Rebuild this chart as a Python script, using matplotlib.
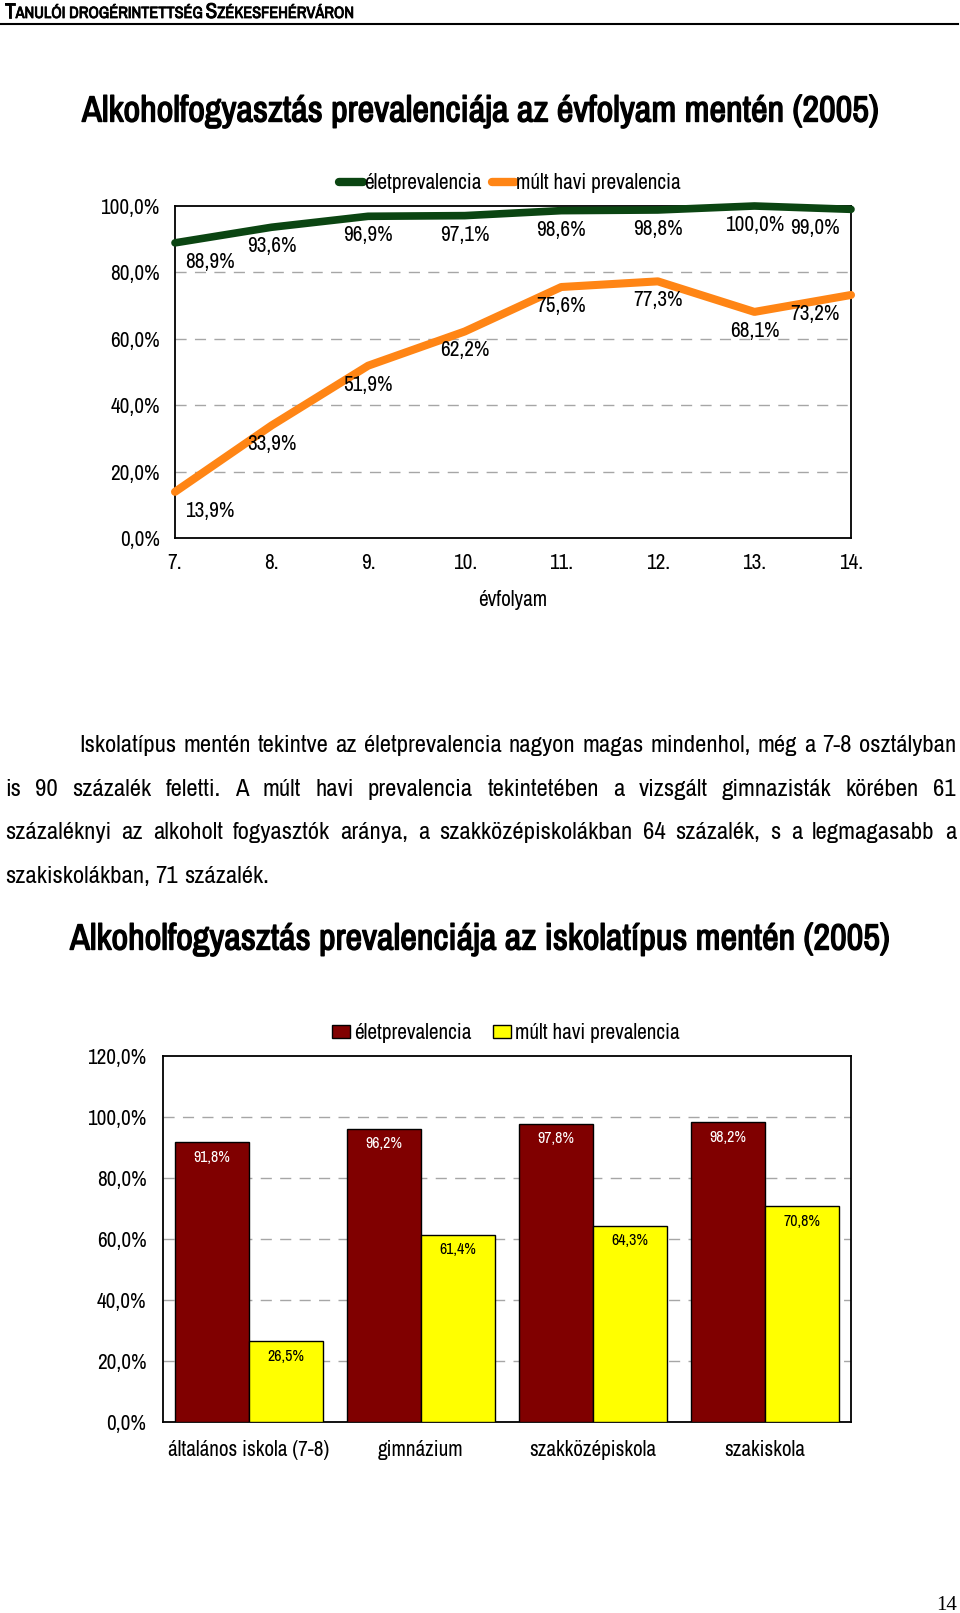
import matplotlib
matplotlib.use('Agg')
import numpy as np
import matplotlib.pyplot as plt
from matplotlib import font_manager
from matplotlib.lines import Line2D
from matplotlib.patches import Patch
from matplotlib.ticker import FuncFormatter
import matplotlib.patheffects as pe

# ---------------- data ----------------
grades = ['7.', '8.', '9.', '10.', '11.', '12.', '13.', '14.']
grade_pos = [7, 8, 9, 10, 11, 12, 13, 14]
life_grade = [88.9, 93.6, 96.9, 97.1, 98.6, 98.8, 100.0, 99.0]
month_grade = [13.9, 33.9, 51.9, 62.2, 75.6, 77.3, 68.1, 73.2]

school_types = ['általános iskola (7-8)', 'gimnázium', 'szakközépiskola', 'szakiskola']
life_school = [91.8, 96.2, 97.8, 98.2]
month_school = [26.5, 61.4, 64.3, 70.8]

series_names = ['életprevalencia', 'múlt havi prevalencia']

header_parts = [('T', True), ('ANULÓI DROGÉRINTETTSÉG', False), ('S', True), ('ZÉKESFEHÉRVÁRON', False)]
title1 = 'Alkoholfogyasztás prevalenciája az évfolyam mentén (2005)'
title2 = 'Alkoholfogyasztás prevalenciája az iskolatípus mentén (2005)'
xlabel1 = 'évfolyam'
paragraph = [
    'Iskolatípus mentén tekintve az életprevalencia nagyon magas mindenhol, még a 7-8 osztályban',
    'is 90 százalék feletti. A múlt havi prevalencia tekintetében a vizsgált gimnazisták körében 61',
    'százaléknyi az alkoholt fogyasztók aránya, a szakközépiskolákban 64 százalék, s a legmagasabb a',
    'szakiskolákban, 71 százalék.',
]
page_no = '14'

# ---------------- fonts ----------------
entries = font_manager.fontManager.ttflist
names = {f.name for f in entries}
prefs = ['Liberation Sans Narrow', 'Arial Narrow', 'Archivo Narrow', 'Roboto Condensed',
         'PT Sans Narrow', 'Pragati Narrow', 'Sofia Sans Condensed', 'Fira Sans Condensed',
         'IBM Plex Sans Condensed', 'Encode Sans Condensed', 'Liberation Sans']
FAM = next(p for p in prefs if p in names) if any(p in names for p in prefs) else 'DejaVu Sans'


def _w(v):
    return v if isinstance(v, (int, float)) else font_manager.weight_dict.get(v, 400)


HAS_BOLD = any(f.name == FAM and _w(f.weight) >= 600 for f in entries)
plt.rcParams['font.family'] = [FAM, 'Liberation Sans', 'DejaVu Sans']

W, H = 960, 1613
fig = plt.figure(figsize=(9.6, 16.13), dpi=100)
renderer = fig.canvas.get_renderer()


def bold_kw(stroke=1.0):
    if HAS_BOLD:
        return dict(fontweight='bold')
    return dict(fontweight='bold', path_effects=[pe.withStroke(linewidth=stroke, foreground='black')])


def fit_size(s, target_px, bold=False, base=20.0):
    kw = dict(fontweight='bold') if bold else {}
    t = fig.text(0, 0, s, fontsize=base, **kw)
    w = t.get_window_extent(renderer).width
    t.remove()
    if not bold or HAS_BOLD:
        return base * target_px / w
    return base * (target_px - 1) / w


def fx(px):
    return px / W


def fy(py):
    return 1 - py / H


def pct(v):
    return f"{v:.1f}%".replace('.', ',')


GREEN = '#0b4512'
ORANGE = '#ff8515'
DARKRED = '#800000'
YELLOW = '#ffff00'
GRID = '#a6a6a6'

FS = fit_size('100,0%', 59)            # axis / legend font
FS_BAR = fit_size('91,8%', 37)          # bar value labels
FS_PAR = fit_size('szakiskolákban, 71 százalék.', 263)
FS_T1 = fit_size(title1, 798, bold=True)
FS_T2 = fit_size(title2, 821, bold=True)

# ---------------- header ----------------
hb = 20.0
tmp_w = 0
for s, big in header_parts:
    t = fig.text(0, 0, s, fontsize=hb if big else hb * 0.76, fontweight='bold')
    tmp_w += t.get_window_extent(renderer).width
    t.remove()
hscale = (358 - 3 * 4) / tmp_w
x = 5
for s, big in header_parts:
    t = fig.text(fx(x), fy(18), s, fontsize=(hb if big else hb * 0.76) * hscale,
                 va='baseline', ha='left', **bold_kw(0.6))
    x += t.get_window_extent(renderer).width + (0 if big else 4)
fig.add_artist(Line2D([0, 958 / W], [fy(24), fy(24)], transform=fig.transFigure,
                      color='black', lw=1.5))

# ---------------- title 1 ----------------
fig.text(fx(82), fy(111), title1, fontsize=FS_T1, va='center', ha='left', **bold_kw())

# ---------------- line chart ----------------
ax1 = fig.add_axes([fx(175), fy(538), (851 - 175) / W, (538 - 206) / H])
ax1.plot(grade_pos, life_grade, color=GREEN, lw=5.5, solid_capstyle='round',
         solid_joinstyle='round', clip_on=False, zorder=4)
ax1.plot(grade_pos, month_grade, color=ORANGE, lw=5.8, solid_capstyle='round',
         solid_joinstyle='round', clip_on=False, zorder=4)
ax1.set_xlim(7, 14)
ax1.set_ylim(0, 100)
ax1.set_yticks([0, 20, 40, 60, 80, 100])
ax1.yaxis.set_major_formatter(FuncFormatter(lambda v, p: pct(v)))
ax1.set_xticks(grade_pos)
ax1.set_xticklabels(grades)
ax1.tick_params(length=0, labelsize=FS)
ax1.tick_params(axis='y', pad=11)
ax1.tick_params(axis='x', pad=11)
for gy in [20, 40, 60, 80]:
    ax1.axhline(gy, color=GRID, lw=1, ls=(0, (8, 6)), zorder=1)
for sp in ax1.spines.values():
    sp.set_color('black')
    sp.set_linewidth(1.3)
ax1.set_xlabel(xlabel1, fontsize=FS, labelpad=12)

n = len(grade_pos)
for i, (gx, v1, v2) in enumerate(zip(grade_pos, life_grade, month_grade)):
    dx = 35 if i == 0 else (-36 if i == n - 1 else 0)
    for v in (v1, v2):
        ax1.annotate(pct(v), (gx, v), xytext=(dx, -19), textcoords='offset pixels',
                     ha='center', va='center', fontsize=FS, zorder=5)

h1 = [Line2D([], [], color=GREEN, lw=6, solid_capstyle='round'),
      Line2D([], [], color=ORANGE, lw=6, solid_capstyle='round')]
fig.legend(h1, series_names, loc='center', bbox_to_anchor=(fx(510), fy(183)), ncol=2,
           frameon=False, fontsize=FS, handlelength=1.1, handletextpad=0.05,
           columnspacing=0.5, borderpad=0, borderaxespad=0)

# ---------------- paragraph (justified) ----------------
t_a = fig.text(0, 0, 'a a', fontsize=FS_PAR)
t_b = fig.text(0, 0, 'aa', fontsize=FS_PAR)
space_w = t_a.get_window_extent(renderer).width - t_b.get_window_extent(renderer).width
t_a.remove()
t_b.remove()
x_first, x_left, x_right = 79, 5, 956
for i, line in enumerate(paragraph):
    base = 752 + 43.7 * i
    words = line.split(' ')
    texts = [fig.text(0, fy(base), w, fontsize=FS_PAR, va='baseline', ha='left') for w in words]
    widths = [t.get_window_extent(renderer).width for t in texts]
    x0 = x_first if i == 0 else x_left
    if i == len(paragraph) - 1:
        gap = space_w
    else:
        gap = (x_right - x0 - sum(widths)) / (len(words) - 1)
    xx = x0
    for t, wd in zip(texts, widths):
        t.set_x(fx(xx))
        xx += wd + gap

# ---------------- title 2 ----------------
fig.text(fx(70), fy(939), title2, fontsize=FS_T2, va='center', ha='left', **bold_kw())

# ---------------- bar chart ----------------
ax2 = fig.add_axes([fx(163), fy(1422), (851 - 163) / W, (1422 - 1056) / H])
idx = np.arange(len(school_types))
bw = 0.43
b1 = ax2.bar(idx - bw / 2, life_school, bw, color=DARKRED, edgecolor='black', lw=1, zorder=3)
b2 = ax2.bar(idx + bw / 2, month_school, bw, color=YELLOW, edgecolor='black', lw=1, zorder=3)
ax2.set_xlim(-0.5, len(school_types) - 0.5)
ax2.set_ylim(0, 120)
ax2.set_yticks([0, 20, 40, 60, 80, 100, 120])
ax2.yaxis.set_major_formatter(FuncFormatter(lambda v, p: pct(v)))
ax2.set_xticks(idx)
ax2.set_xticklabels(school_types)
ax2.tick_params(length=0, labelsize=FS)
ax2.tick_params(axis='y', pad=12)
ax2.tick_params(axis='x', pad=13)
for gy in [20, 40, 60, 80, 100]:
    ax2.axhline(gy, color=GRID, lw=1, ls=(0, (8, 6)), zorder=1)
for sp in ax2.spines.values():
    sp.set_color('black')
    sp.set_linewidth(1.3)
for bars, vals, col in ((b1, life_school, 'white'), (b2, month_school, 'black')):
    for r, v in zip(bars, vals):
        ax2.annotate(pct(v), (r.get_x() + r.get_width() / 2, v), xytext=(0, -15),
                     textcoords='offset pixels', ha='center', va='center',
                     fontsize=FS_BAR, color=col, zorder=5)

h2 = [Patch(facecolor=DARKRED, edgecolor='black', lw=1),
      Patch(facecolor=YELLOW, edgecolor='black', lw=1)]
fig.legend(h2, series_names, loc='center', bbox_to_anchor=(fx(506), fy(1033)), ncol=2,
           frameon=False, fontsize=FS, handlelength=0.85, handleheight=0.6,
           handletextpad=0.2, columnspacing=1.0, borderpad=0, borderaxespad=0)

# ---------------- page number ----------------
fig.text(fx(947), fy(1596), page_no, fontsize=15, ha='center', va='top',
         family=['Liberation Serif', 'DejaVu Serif'])

fig.savefig('out.png', dpi=100)
